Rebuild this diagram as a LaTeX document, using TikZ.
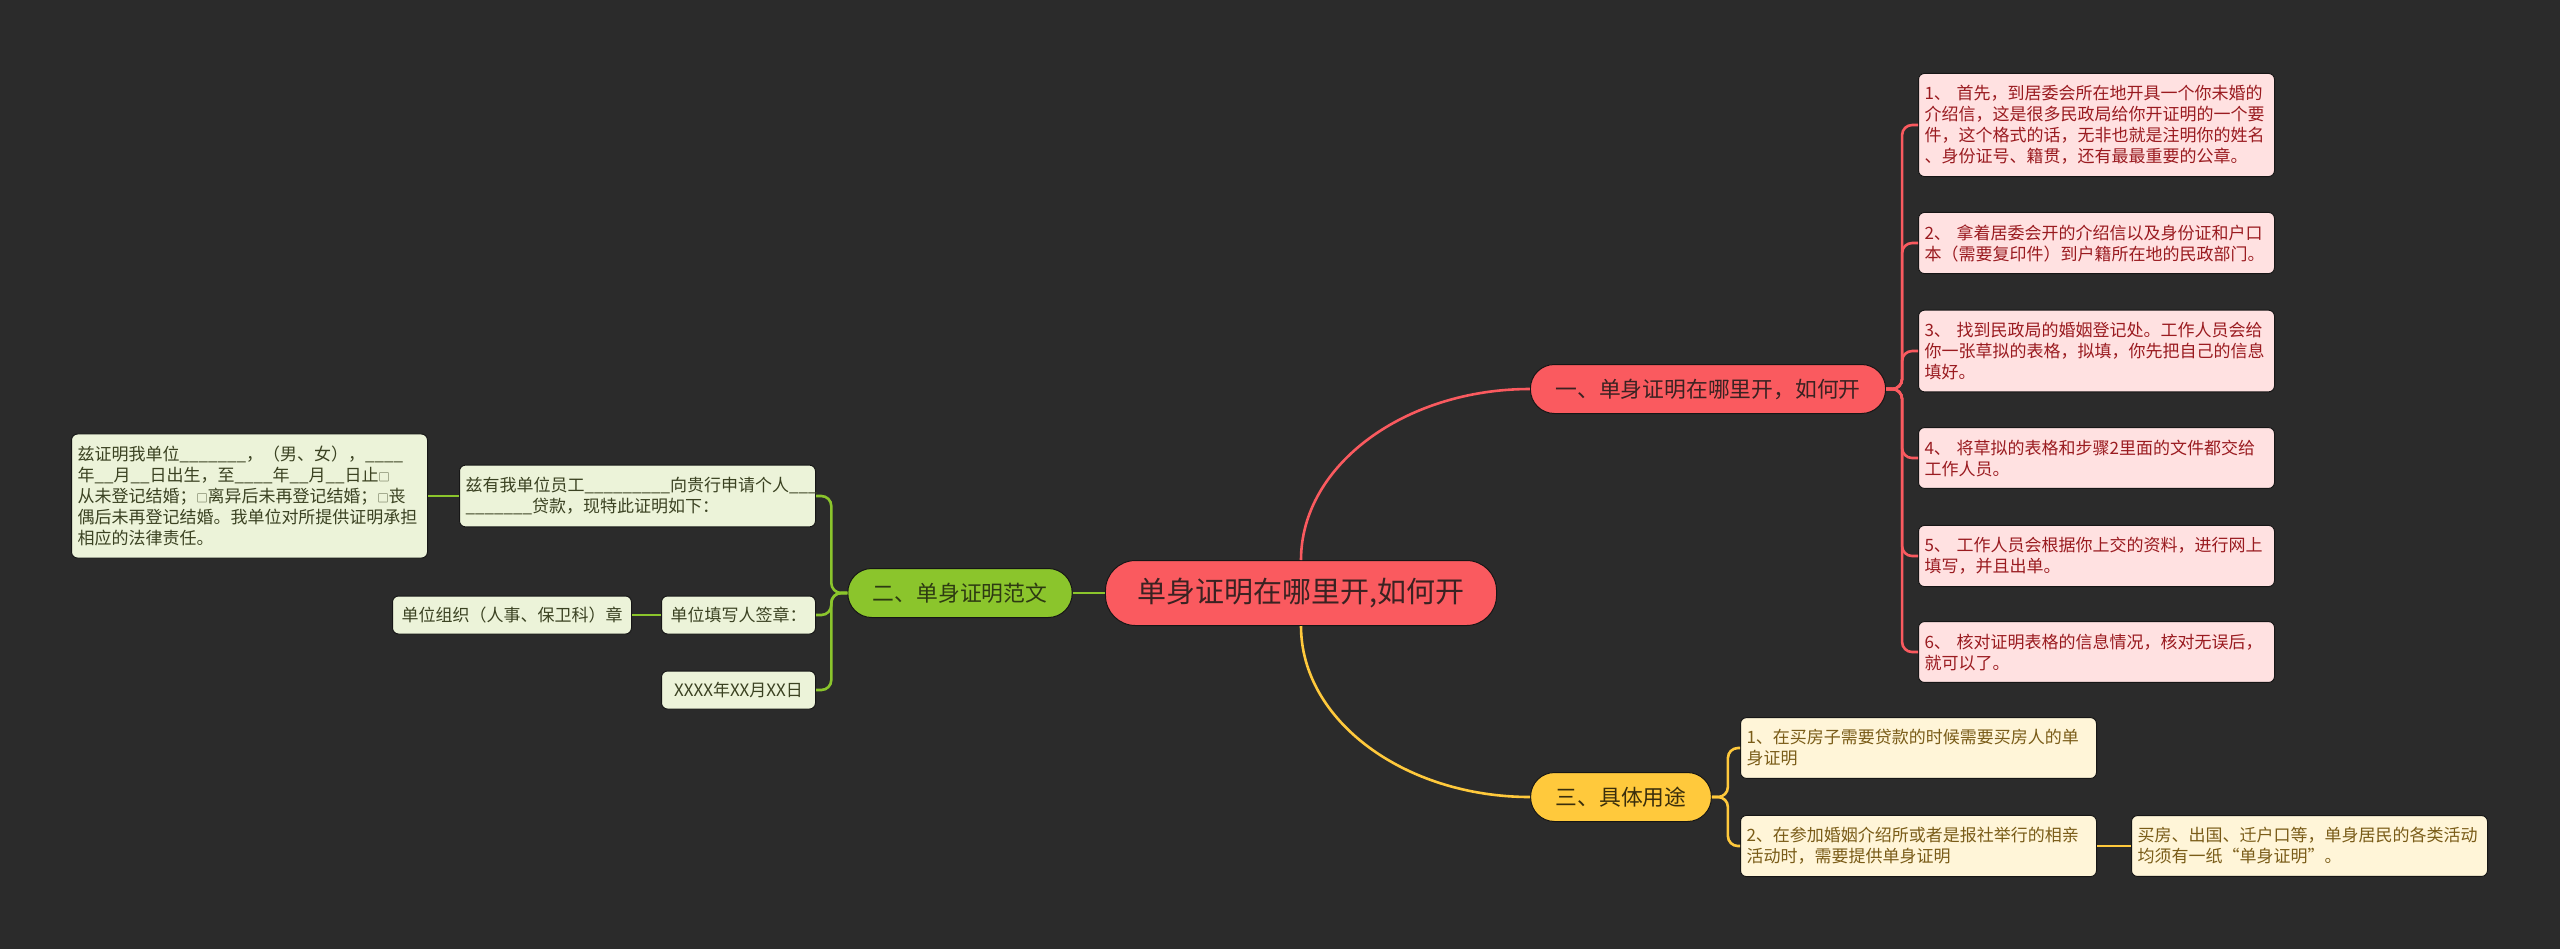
\documentclass[tikz,border=0pt]{standalone}
\usepackage{fontspec}
\newfontfamily\cjk{Noto Sans CJK SC}
\newcommand\tickbox{{\fontsize{5.5pt}{6pt}\selectfont □}}
\definecolor{bgc}{HTML}{2B2B2B}
\definecolor{edge}{HTML}{161616}
\definecolor{redc}{HTML}{FA5A5F}
\definecolor{redpale}{HTML}{FFE1E1}
\definecolor{redink}{HTML}{9A1B20}
\definecolor{grnc}{HTML}{8BC52C}
\definecolor{grnpale}{HTML}{ECF3D9}
\definecolor{grnink}{HTML}{3B4222}
\definecolor{yelc}{HTML}{FFC93C}
\definecolor{yelpale}{HTML}{FFF5D8}
\definecolor{yelink}{HTML}{7A5C18}
\definecolor{darkink}{HTML}{3A2222}
\tikzstyle{every node}=[font=\cjk]
\tikzstyle{mainnode}=[fill=redc,draw=edge,line width=0.5pt,rounded corners=15pt,minimum height=32.5pt,inner xsep=16pt,text=darkink,font=\cjk\fontsize{14.5pt}{17pt}\selectfont]
\tikzstyle{topic}=[draw=edge,line width=0.5pt,rounded corners=12pt,minimum height=24.5pt,inner xsep=12.5pt,font=\cjk\fontsize{10.9pt}{13pt}\selectfont]
\tikzstyle{leaf}=[draw=edge,line width=0.5pt,rounded corners=3pt,inner xsep=3pt,inner ysep=6pt,align=left,font=\cjk\fontsize{8.5pt}{10.5pt}\selectfont]
\tikzstyle{wide}=[text width=172pt]
\tikzstyle{tag}=[inner xsep=4.5pt,inner ysep=0pt,minimum height=19pt]
\tikzstyle{redleaf}=[leaf,fill=redpale,text=redink]
\tikzstyle{grnleaf}=[leaf,fill=grnpale,text=grnink]
\tikzstyle{yelleaf}=[leaf,fill=yelpale,text=yelink]
\tikzstyle{redwire}=[draw=redc,line width=1.3pt,rounded corners=5pt]
\tikzstyle{grnwire}=[draw=grnc,line width=1.3pt,rounded corners=5pt]
\tikzstyle{yelwire}=[draw=yelc,line width=1.3pt,rounded corners=5pt]

\begin{document}
\begin{tikzpicture}[x=0.5pt,y=-0.5pt]
	\fill[bgc] (0,0) rectangle (2560,949);
	\useasboundingbox (0,0) rectangle (2560,949);

	% centre and the three topics
	\node (m) [mainnode] at (1301,593) {单身证明在哪里开,如何开};
	\node (t1) [topic,fill=redc,text=darkink] at (1708,389) {一、单身证明在哪里开，如何开};
	\node (t2) [topic,fill=grnc,text={rgb,255:red,45;green,58;blue,18}] at (960,593) {二、单身证明范文};
	\node (t3) [topic,fill=yelc,text={rgb,255:red,58;green,46;blue,12}] at (1621,797) {三、具体用途};

	\draw[redwire] (m.north) .. controls +(0,-95) and +(-125,0) .. (t1.west);
	\draw[yelwire] (m.south) .. controls +(0,95) and +(-125,0) .. (t3.west);
	\draw[grnwire] (m.west) -- (t2.east);

	% topic 1
	\node (r1) [redleaf,wide,anchor=west] at (1918,125) {1、 首先，到居委会所在地开具一个你未婚的\\介绍信，这是很多民政局给你开证明的一个要\\件，这个格式的话，无非也就是注明你的姓名\\、身份证号、籍贯，还有最最重要的公章。};
	\node (r2) [redleaf,wide,anchor=west] at (1918,243) {2、 拿着居委会开的介绍信以及身份证和户口\\本（需要复印件）到户籍所在地的民政部门。};
	\node (r3) [redleaf,wide,anchor=west] at (1918,351) {3、 找到民政局的婚姻登记处。工作人员会给\\你一张草拟的表格，拟填，你先把自己的信息\\填好。};
	\node (r4) [redleaf,wide,anchor=west] at (1918,458) {4、 将草拟的表格和步骤2里面的文件都交给\\工作人员。};
	\node (r5) [redleaf,wide,anchor=west] at (1918,556) {5、 工作人员会根据你上交的资料，进行网上\\填写，并且出单。};
	\node (r6) [redleaf,wide,anchor=west] at (1918,652) {6、 核对证明表格的信息情况，核对无误后，\\就可以了。};
	\foreach \n in {1,...,6}
		\draw[redwire] (t1.east) -- ++(16,0) |- (r\n.west);

	% topic 2
	\node (g1) [grnleaf,wide,anchor=east] at (816,496) {兹有我单位员工\_\_\_\_\_\_\_\_\_向贵行申请个人\_\_\_\\\_\_\_\_\_\_\_贷款，现特此证明如下：};
	\node (g2) [grnleaf,tag,anchor=east] at (816,615) {单位填写人签章：};
	\node (g3) [grnleaf,tag,minimum width=77pt,anchor=east] at (816,690) {XXXX年XX月XX日};
	\node (g4) [grnleaf,wide,anchor=east] at (428,496) {兹证明我单位\_\_\_\_\_\_\_，（男、女），\_\_\_\_\\年\_\_月\_\_日出生，至\_\_\_\_年\_\_月\_\_日止\tickbox\\从未登记结婚；\tickbox 离异后未再登记结婚；\tickbox 丧\\偶后未再登记结婚。我单位对所提供证明承担\\相应的法律责任。};
	\node (g5) [grnleaf,tag,anchor=east] at (632,615) {单位组织（人事、保卫科）章};
	\foreach \n in {1,2,3}
		\draw[grnwire] (t2.west) -- ++(-16,0) |- (g\n.east);
	\draw[grnwire] (g1.west) -- (g4.east);
	\draw[grnwire] (g2.west) -- (g5.east);

	% topic 3
	\node (y1) [yelleaf,wide,anchor=west] at (1740,748) {1、在买房子需要贷款的时候需要买房人的单\\身证明};
	\node (y2) [yelleaf,wide,anchor=west] at (1740,846) {2、在参加婚姻介绍所或者是报社举行的相亲\\活动时，需要提供单身证明};
	\node (y3) [yelleaf,wide,anchor=west] at (2131,846) {买房、出国、迁户口等，单身居民的各类活动\\均须有一纸“单身证明”。};
	\foreach \n in {1,2}
		\draw[yelwire] (t3.east) -- ++(16,0) |- (y\n.west);
	\draw[yelwire] (y2.east) -- (y3.west);
\end{tikzpicture}
\end{document}
